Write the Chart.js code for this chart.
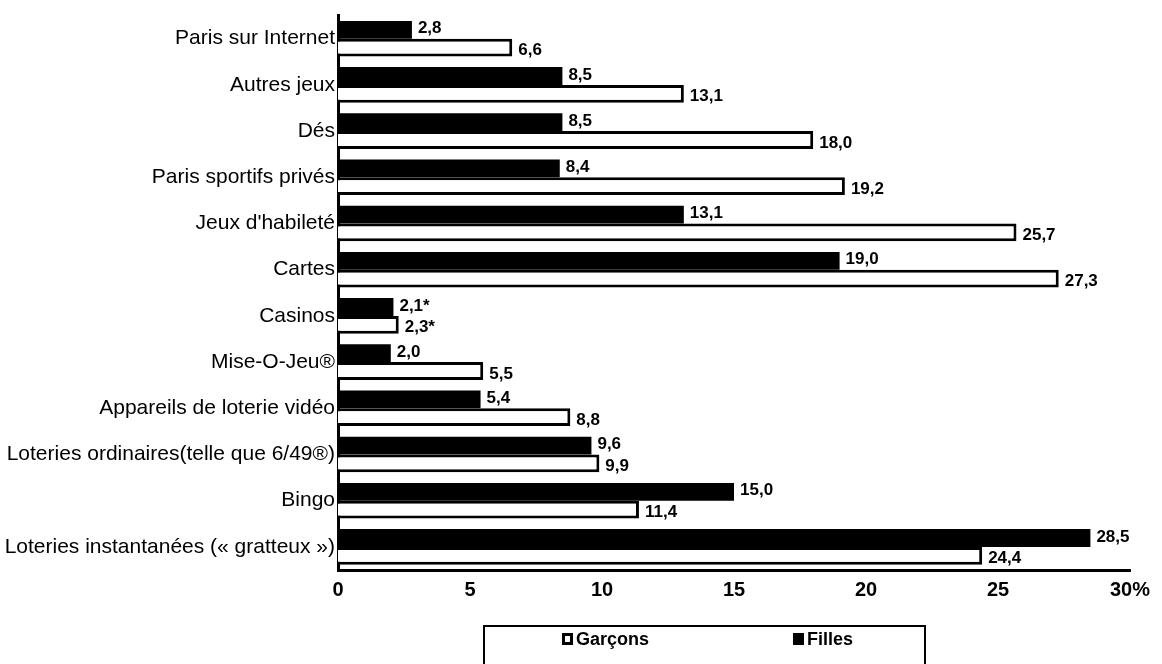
<!DOCTYPE html>
<html>
<head>
<meta charset="utf-8">
<script src="https://cdn.jsdelivr.net/npm/chart.js@4.4.1/dist/chart.umd.min.js"></script>
<style>
  html, body { margin: 0; padding: 0; background: #fff; overflow: hidden; }
  #wrap { position: relative; width: 1162px; height: 664px; overflow: hidden; }
  canvas { position: absolute; left: 0; top: 0; }
  #legend { position: absolute; left: 483px; top: 625px; width: 443px; height: 80px;
    border: 2px solid #000; box-sizing: border-box; font-family: "Liberation Sans", Arial, sans-serif;
    font-size: 18px; font-weight: bold; color: #000; line-height: 20px; }
  .item { position: absolute; top: 2px; display: flex; align-items: center; }
  .sw { display: inline-block; width: 11px; height: 12px; margin-right: 3px; box-sizing: border-box; }
</style>
</head>
<body>
<div id="wrap">
  <canvas id="c" width="1162" height="664"></canvas>
  <div id="legend">
    <div class="item" style="left:77px"><span class="sw" style="border:3px solid #000;background:#fff"></span><span>Garçons</span></div>
    <div class="item" style="left:308px"><span class="sw" style="background:#000"></span><span>Filles</span></div>
  </div>
</div>
<script>
const categories = [
  "Paris sur Internet",
  "Autres jeux",
  "Dés",
  "Paris sportifs privés",
  "Jeux d'habileté",
  "Cartes",
  "Casinos",
  "Mise-O-Jeu®",
  "Appareils de loterie vidéo",
  "Loteries ordinaires(telle que 6/49®)",
  "Bingo",
  "Loteries instantanées (« gratteux »)"
];
const filles  = [2.8, 8.5, 8.5, 8.4, 13.1, 19.0, 2.1, 2.0, 5.4, 9.6, 15.0, 28.5];
const garcons = [6.6, 13.1, 18.0, 19.2, 25.7, 27.3, 2.3, 5.5, 8.8, 9.9, 11.4, 24.4];
const fillesNotes  = ["", "", "", "", "", "", "*", "", "", "", "", ""];
const garconsNotes = ["", "", "", "", "", "", "*", "", "", "", "", ""];
const xTicks = [0, 5, 10, 15, 20, 25, 30];

const FONT = '"Liberation Sans", Arial, sans-serif';

function fmt(v) { return v.toFixed(1).replace('.', ','); }

const valueLabels = {
  id: 'valueLabels',
  afterDatasetsDraw(chart) {
    const ctx = chart.ctx;
    ctx.save();
    ctx.fillStyle = '#000';
    ctx.font = 'bold 17px ' + FONT;
    ctx.textBaseline = 'middle';
    ctx.textAlign = 'left';
    chart.data.datasets.forEach((ds, di) => {
      const meta = chart.getDatasetMeta(di);
      meta.data.forEach((el, i) => {
        const notes = di === 0 ? fillesNotes : garconsNotes;
        const txt = fmt(ds.data[i]) + notes[i];
        const dy = di === 0 ? -1 : 3;
        ctx.fillText(txt, el.x + 6, el.y + dy);
      });
    });
    ctx.restore();
  }
};

new Chart(document.getElementById('c'), {
  type: 'bar',
  data: {
    labels: categories,
    datasets: [
      { label: 'Filles', data: filles, backgroundColor: '#000', borderColor: '#000', borderWidth: 0,
        categoryPercentage: 0.77, barPercentage: 1.0 },
      { label: 'Garçons', data: garcons, backgroundColor: '#fff', borderColor: '#000', borderWidth: 3,
        borderSkipped: 'start', categoryPercentage: 0.77, barPercentage: 1.0 }
    ]
  },
  options: {
    indexAxis: 'y',
    responsive: false,
    animation: false,
    devicePixelRatio: 1,
    layout: { padding: { top: 15, right: 32, bottom: 0, left: 0 } },
    plugins: { legend: { display: false }, tooltip: { enabled: false } },
    scales: {
      x: {
        min: 0, max: 30,
        afterBuildTicks(scale) { scale.ticks = xTicks.map(v => ({ value: v })); },
        afterFit(scale) { scale.height = 94; },
        grid: { display: false, drawTicks: false },
        border: { display: true, color: '#000', width: 3 },
        ticks: {
          padding: 8,
          color: '#000',
          font: { family: FONT, size: 20, weight: 'bold' },
          callback: (v) => v === 30 ? '30%' : String(v)
        }
      },
      y: {
        afterFit(scale) { scale.width = 338; },
        grid: { display: false, drawTicks: false },
        border: { display: true, color: '#000', width: 3 },
        ticks: {
          padding: 3,
          color: '#000',
          font: { family: FONT, size: 21 }
        }
      }
    }
  },
  plugins: [valueLabels]
});
</script>
</body>
</html>
